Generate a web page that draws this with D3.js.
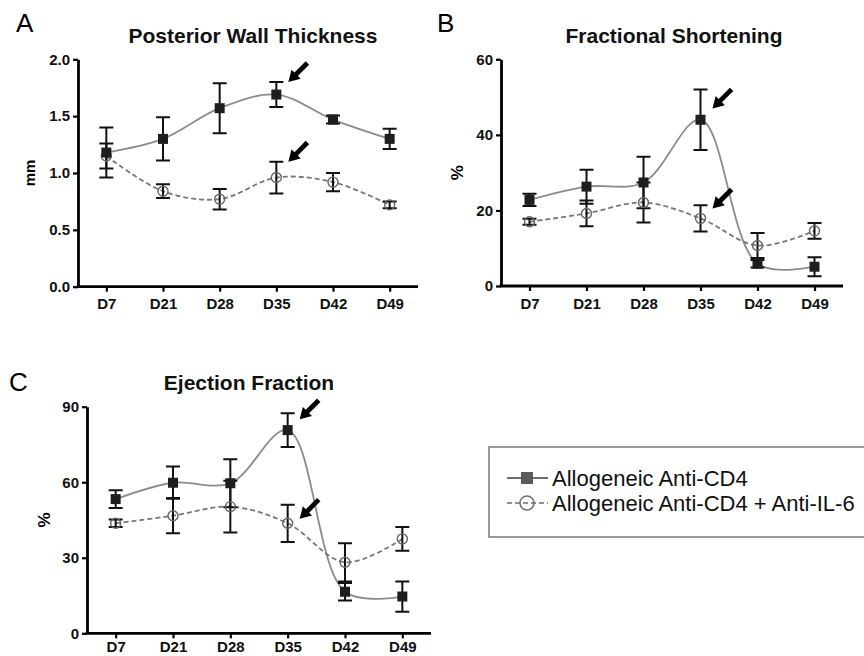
<!DOCTYPE html>
<html>
<head>
<meta charset="utf-8">
<script src="https://cdn.jsdelivr.net/npm/d3@7"></script>
<style>
  body { margin: 0; background: #fff; }
  svg text { font-family: "Liberation Sans", Arial, sans-serif; }
</style>
</head>
<body>
<div id="main"></div>
<script>
// days on the x axis
const days = ['D7', 'D21', 'D28', 'D35', 'D42', 'D49'];

// A - posterior wall thickness (mm)
const pwtCD4 = [1.18, 1.30, 1.57, 1.69, 1.47, 1.30];
const pwtCD4Err = [0.22, 0.19, 0.22, 0.11, 0.035, 0.09];
const pwtIL6 = [1.15, 0.84, 0.77, 0.96, 0.92, 0.72];
const pwtIL6Err = [0.11, 0.06, 0.09, 0.14, 0.08, 0.03];
const pwtTicks = [0, 0.5, 1.0, 1.5, 2.0];
const pwtArrows = [1.80, 1.10];

// B - fractional shortening (%)
const fsCD4 = [22.8, 26.3, 27.4, 44.0, 5.9, 5.1];
const fsCD4Err = [1.6, 4.5, 6.8, 8.0, 1.0, 2.5];
const fsIL6 = [17.0, 19.2, 22.1, 17.9, 10.7, 14.6];
const fsIL6Err = [0.8, 3.4, 5.3, 3.5, 3.3, 2.1];
const fsTicks = [0, 20, 40, 60];
const fsArrows = [47, 20.5];

// C - ejection fraction (%)
const efCD4 = [53.3, 59.8, 59.6, 80.7, 16.5, 14.6];
const efCD4Err = [3.5, 6.4, 9.5, 6.7, 3.5, 6.0];
const efIL6 = [43.7, 46.7, 50.3, 43.7, 28.2, 37.5];
const efIL6Err = [1.5, 7.0, 10.3, 7.4, 7.6, 4.7];
const efTicks = [0, 30, 60, 90];
const efArrows = [85, 45.5];

const seriesNames = ['Allogeneic Anti-CD4', 'Allogeneic Anti-CD4 + Anti-IL-6'];

const w = 864;
const h = 656;

const svg = d3.select('#main')
    .append('svg')
    .attr('width', w)
    .attr('height', h);

const panels = [
    { letter: 'A', title: 'Posterior Wall Thickness', ylabel: 'mm',
      left: 78, right: 418, top: 59.3, bottom: 286.7, max: 2.0, ticks: pwtTicks, fmt: d3.format('.1f'),
      cd4: pwtCD4, cd4Err: pwtCD4Err, il6: pwtIL6, il6Err: pwtIL6Err, arrows: pwtArrows,
      letterX: 16, letterY: 32, titleX: 253, titleY: 43, ylabelX: 35, ylabelSize: 15, xPad: 7 },
    { letter: 'B', title: 'Fractional Shortening', ylabel: '%',
      left: 501, right: 843, top: 59.3, bottom: 286, max: 60, ticks: fsTicks, fmt: d3.format('d'),
      cd4: fsCD4, cd4Err: fsCD4Err, il6: fsIL6, il6Err: fsIL6Err, arrows: fsArrows,
      letterX: 437, letterY: 32, titleX: 674, titleY: 43, ylabelX: 463, ylabelSize: 17, xPad: 7 },
    { letter: 'C', title: 'Ejection Fraction', ylabel: '%',
      left: 87, right: 431, top: 406.7, bottom: 633.3, max: 90, ticks: efTicks, fmt: d3.format('d'),
      cd4: efCD4, cd4Err: efCD4Err, il6: efIL6, il6Err: efIL6Err, arrows: efArrows,
      letterX: 9, letterY: 391, titleX: 249, titleY: 390, ylabelX: 50, ylabelSize: 17, xPad: 3 }
];

function arrowPath() {
    // arrow pointing along +x, tip at origin
    const L = 27, hl = 11, hw = 6.5, sw = 2.4;
    return `M${-L},${-sw} L${-hl},${-sw} L${-hl},${-hw} L0,0 L${-hl},${hw} L${-hl},${sw} L${-L},${sw} Z`;
}

panels.forEach(p => {
    const x = d3.scalePoint()
        .domain(days)
        .range([p.left, p.right])
        .padding(0.5);

    const y = d3.scaleLinear()
        .domain([0, p.max])
        .range([p.bottom, p.top]);

    const g = svg.append('g');

    // letter and title
    g.append('text')
        .attr('x', p.letterX)
        .attr('y', p.letterY)
        .style('font-size', '26px')
        .text(p.letter);

    g.append('text')
        .attr('x', p.titleX)
        .attr('y', p.titleY)
        .attr('text-anchor', 'middle')
        .style('font-size', '21px')
        .style('font-weight', 'bold')
        .attr('fill', '#111')
        .text(p.title);

    g.append('text')
        .attr('transform', `translate(${p.ylabelX}, ${(p.top + p.bottom) / 2}) rotate(-90)`)
        .attr('text-anchor', 'middle')
        .style('font-size', p.ylabelSize + 'px')
        .style('font-weight', 'bold')
        .text(p.ylabel);

    // axes
    const yAxis = g.append('g')
        .attr('transform', `translate(${p.left},0)`)
        .call(d3.axisLeft(y).tickValues(p.ticks).tickFormat(p.fmt).tickSize(5).tickPadding(3).tickSizeOuter(0));

    const xAxis = g.append('g')
        .attr('transform', `translate(0,${p.bottom})`)
        .call(d3.axisBottom(x).tickSize(5).tickPadding(p.xPad).tickSizeOuter(0));

    [yAxis, xAxis].forEach(a => {
        a.select('.domain').attr('stroke', '#000').attr('stroke-width', 2.8);
        a.selectAll('.tick line').attr('stroke', '#000').attr('stroke-width', 2.2);
        a.selectAll('.tick text')
            .attr('fill', '#111')
            .style('font-size', '15px')
            .style('font-weight', 'bold')
            .style('font-family', '"Liberation Sans", Arial, sans-serif');
    });
    xAxis.select('.domain').attr('d', `M${p.left - 1.4},0H${p.right}`);

    const rows = days.map((d, i) => ({
        day: d, cd4: p.cd4[i], cd4Err: p.cd4Err[i], il6: p.il6[i], il6Err: p.il6Err[i]
    }));

    // curves
    g.append('path')
        .datum(rows)
        .attr('fill', 'none')
        .attr('stroke', '#8c8c8c')
        .attr('stroke-width', 1.8)
        .attr('d', d3.line().x(d => x(d.day)).y(d => y(d.cd4)).curve(d3.curveCatmullRom.alpha(0.5)));

    g.append('path')
        .datum(rows)
        .attr('fill', 'none')
        .attr('stroke', '#777')
        .attr('stroke-width', 1.8)
        .attr('stroke-dasharray', '5,3')
        .attr('d', d3.line().x(d => x(d.day)).y(d => y(d.il6)).curve(d3.curveCatmullRom.alpha(0.5)));

    // error bars
    const cap = 7;
    const bars = [];
    rows.forEach(r => {
        bars.push({ day: r.day, lo: r.il6 - r.il6Err, hi: r.il6 + r.il6Err });
        bars.push({ day: r.day, lo: r.cd4 - r.cd4Err, hi: r.cd4 + r.cd4Err });
    });
    g.append('g')
        .selectAll('path')
        .data(bars)
        .enter()
        .append('path')
        .attr('fill', 'none')
        .attr('stroke', '#111')
        .attr('stroke-width', 2)
        .attr('d', d => {
            const cx = x(d.day), y0 = y(d.lo), y1 = y(d.hi);
            return `M${cx - cap},${y1}H${cx + cap}M${cx},${y1}V${y0}M${cx - cap},${y0}H${cx + cap}`;
        });

    // markers
    g.append('g')
        .selectAll('circle')
        .data(rows)
        .enter()
        .append('circle')
        .attr('cx', d => x(d.day))
        .attr('cy', d => y(d.il6))
        .attr('r', 5)
        .attr('fill', 'none')
        .attr('stroke', '#666')
        .attr('stroke-width', 1.4);

    g.append('g')
        .selectAll('rect')
        .data(rows)
        .enter()
        .append('rect')
        .attr('x', d => x(d.day) - 5)
        .attr('y', d => y(d.cd4) - 5)
        .attr('width', 10)
        .attr('height', 10)
        .attr('fill', '#1e1e1e');

    // arrows at D35
    g.append('g')
        .selectAll('path')
        .data(p.arrows)
        .enter()
        .append('path')
        .attr('d', arrowPath())
        .attr('fill', '#000')
        .attr('transform', d => `translate(${x('D35') + 12},${y(d)}) rotate(135)`);
});

// legend
const legend = svg.append('g');

legend.append('rect')
    .attr('x', 489)
    .attr('y', 447)
    .attr('width', 376)
    .attr('height', 90)
    .attr('fill', '#fff')
    .attr('stroke', '#808080')
    .attr('stroke-width', 1.6);

const legendY = d3.scalePoint().domain(seriesNames).range([478, 503]);

legend.selectAll('text')
    .data(seriesNames)
    .enter()
    .append('text')
    .attr('x', 552)
    .attr('y', d => legendY(d) + 7.5)
    .style('font-size', '22px')
    .attr('fill', '#111')
    .text(d => d);

legend.append('line')
    .attr('x1', 507).attr('x2', 548)
    .attr('y1', legendY(seriesNames[0])).attr('y2', legendY(seriesNames[0]))
    .attr('stroke', '#6e6e6e').attr('stroke-width', 2.2);
legend.append('rect')
    .attr('x', 521).attr('y', legendY(seriesNames[0]) - 6)
    .attr('width', 12).attr('height', 12)
    .attr('fill', '#5a5a5a');

legend.append('line')
    .attr('x1', 507).attr('x2', 548)
    .attr('y1', legendY(seriesNames[1])).attr('y2', legendY(seriesNames[1]))
    .attr('stroke', '#6e6e6e').attr('stroke-width', 1.6)
    .attr('stroke-dasharray', '5,3');
legend.append('circle')
    .attr('cx', 527).attr('cy', legendY(seriesNames[1]))
    .attr('r', 7)
    .attr('fill', 'none')
    .attr('stroke', '#6e6e6e').attr('stroke-width', 1.5);
</script>
</body>
</html>
